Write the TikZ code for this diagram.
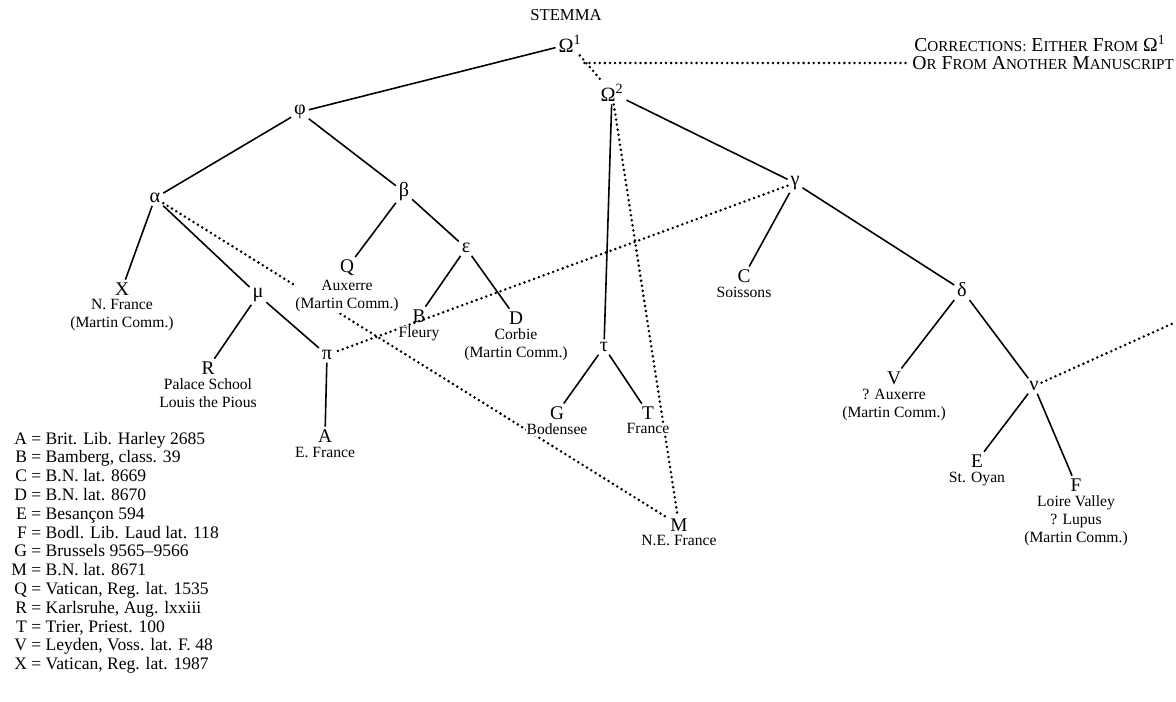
\documentclass[tikz,border=0pt]{standalone}
\usepackage{fontspec}
\setmainfont{Liberation Serif}
\usetikzlibrary{positioning, backgrounds}

\newcommand{\smcap}[2]{#1{\fontsize{8.6}{10}\selectfont #2}}

\begin{document}
\begin{tikzpicture}[
    ms/.style={font=\fontsize{11}{12}\selectfont, inner sep=1.5pt},
    hyp/.style={font=\fontsize{11.5}{12}\selectfont, inner sep=1.5pt},
    place/.style={font=\fontsize{8.9}{10.2}\selectfont, align=center, inner sep=0.6pt, fill=white},
    edge/.style={line width=0.9pt},
    contam/.style={line width=1.6pt, line cap=round, dash pattern=on 0pt off 2.9pt},
  ]
  \useasboundingbox (0,0) rectangle (23.52,-14.04);

  % Title
  \node[font=\fontsize{9.5}{10}\selectfont] (title) at (11.32,-0.3) {STEMMA};

  % Archetypes
  \node[hyp] (om1) at (11.4,-0.88) {Ω\textsuperscript{1}};
  \node[hyp] (om2) at (12.24,-1.86) {Ω\textsuperscript{2}};
  \node[anchor=west, font=\fontsize{11.2}{12}\selectfont, inner sep=0pt] (corr1) at (18.28,-0.88)
    {\smcap{C}{ORRECTIONS:} \smcap{E}{ITHER} \smcap{F}{ROM} Ω\textsuperscript{1}};
  \node[anchor=west, font=\fontsize{11.2}{12}\selectfont, inner sep=0pt] (corr2) at (18.24,-1.26)
    {\smcap{O}{R} \smcap{F}{ROM} \smcap{A}{NOTHER} \smcap{M}{ANUSCRIPT}};

  % Left branch
  \node[hyp] (phi) at (6.0,-2.24) {φ};
  \node[hyp] (alpha) at (3.1,-3.96) {α};
  \node[hyp] (beta) at (8.08,-3.84) {β};
  \node[ms] (X) at (2.44,-5.78) {X};
  \node[place, below=0pt of X] (Xp) {N. France\\(Martin Comm.)};
  \node[hyp] (mu) at (5.16,-5.9) {μ};
  \node[ms] (R) at (4.16,-7.36) {R};
  \node[place, below=0pt of R] (Rp) {Palace School\\Louis the Pious};
  \node[hyp] (pi) at (6.54,-7.1) {π};
  \node[ms] (A) at (6.5,-8.72) {A};
  \node[place, below=0pt of A] (Ap) {E. France};
  \node[ms] (Q) at (6.94,-5.36) {Q};
  \node[place, below=0pt of Q] (Qp) {Auxerre\\(Martin Comm.)};
  \node[hyp] (eps) at (9.32,-4.96) {ε};
  \node[ms] (B) at (8.38,-6.32) {B};
  \node[place, below=0pt of B] (Bp) {Fleury};
  \node[ms] (D) at (10.32,-6.36) {D};
  \node[place, below=0pt of D] (Dp) {Corbie\\(Martin Comm.)};

  % Middle branch
  \node[hyp] (tau) at (12.08,-6.94) {τ};
  \node[ms] (G) at (11.14,-8.26) {G};
  \node[place, below=0pt of G] (Gp) {Bodensee};
  \node[ms] (T) at (12.96,-8.26) {T};
  \node[place, below=0pt of T] (Tp) {France};
  \node[ms] (M) at (13.58,-10.5) {M};
  \node[place, below=0pt of M] (Mp) {N.E. France};

  % Right branch
  \node[hyp] (gamma) at (15.9,-3.66) {γ};
  \node[ms] (C) at (14.88,-5.52) {C};
  \node[place, below=0pt of C] (Cp) {Soissons};
  \node[hyp] (delta) at (19.24,-5.8) {δ};
  \node[ms] (V) at (17.88,-7.56) {V};
  \node[place, below=0pt of V] (Vp) {? Auxerre\\(Martin Comm.)};
  \node[hyp] (nu) at (20.68,-7.72) {ν};
  \node[ms] (E) at (19.54,-9.22) {E};
  \node[place, below=0pt of E] (Ep) {St. Oyan};
  \node[ms] (F) at (21.52,-9.7) {F};
  \node[place, below=0pt of F] (Fp) {Loire Valley\\? Lupus\\(Martin Comm.)};
  \coordinate (nuout) at (23.52,-6.44);

  % Key to sigla
  \node[anchor=north west, inner sep=0pt, font=\fontsize{10}{10.7}\selectfont] (key) at (0.22,-8.61)
    {\begin{tabular}{@{}r@{ = }l@{}}
      A & Brit. Lib. Harley 2685\\
      B & Bamberg, class. 39\\
      C & B.N. lat. 8669\\
      D & B.N. lat. 8670\\
      E & Besançon 594\\
      F & Bodl. Lib. Laud lat. 118\\
      G & Brussels 9565--9566\\
      M & B.N. lat. 8671\\
      Q & Vatican, Reg. lat. 1535\\
      R & Karlsruhe, Aug. lxxiii\\
      T & Trier, Priest. 100\\
      V & Leyden, Voss. lat. F. 48\\
      X & Vatican, Reg. lat. 1987
    \end{tabular}};

  \begin{scope}[on background layer]
    % descent
    \draw[edge] (om1) -- (phi);
    \draw[edge] (phi) -- (alpha);
    \draw[edge] (phi) -- (beta);
    \draw[edge] (alpha) -- (X);
    \draw[edge] (alpha) -- (mu);
    \draw[edge] (mu) -- (R);
    \draw[edge] (mu) -- (pi);
    \draw[edge] (pi) -- (A);
    \draw[edge] (beta) -- (Q);
    \draw[edge] (beta) -- (eps);
    \draw[edge] (eps) -- (B);
    \draw[edge] (eps) -- (D);
    \draw[edge] (om2) -- (tau);
    \draw[edge] (tau) -- (G);
    \draw[edge] (tau) -- (T);
    \draw[edge] (om2) -- (gamma);
    \draw[edge] (gamma) -- (C);
    \draw[edge] (gamma) -- (delta);
    \draw[edge] (delta) -- (V);
    \draw[edge] (delta) -- (nu);
    \draw[edge] (nu) -- (E);
    \draw[edge] (nu) -- (F);
    % contamination
    \draw[contam] (om1) -- (om2);
    \draw[contam, shorten >=3pt] (om1.east |- corr2.west) -- (corr2.west);
    \draw[contam] (alpha) -- (M);
    \draw[contam] (om2) -- (M);
    \draw[contam] (gamma) -- (pi);
    \draw[contam] (nu) -- (nuout);
  \end{scope}
\end{tikzpicture}
\end{document}
